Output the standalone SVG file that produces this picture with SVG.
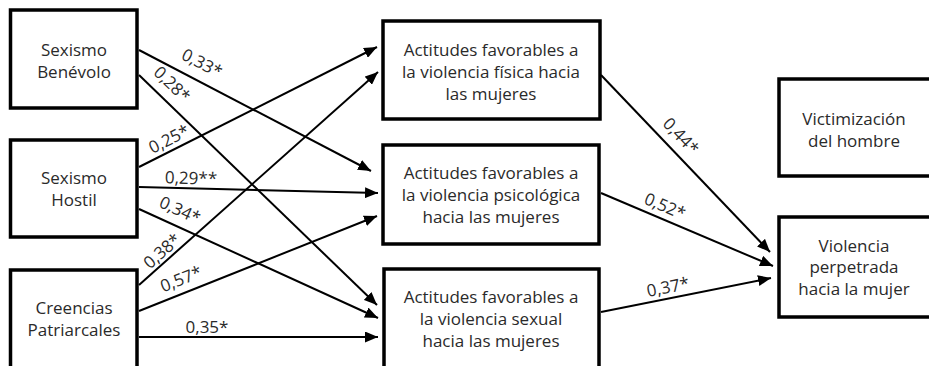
<svg xmlns="http://www.w3.org/2000/svg" width="929" height="366" viewBox="0 0 929 366">
<style>
  .box { fill: #fff; stroke: #000; stroke-width: 3.5; }
  .t { font-family: "Open Sans", "Liberation Sans", sans-serif; font-size: 17px; fill: #2a2a2a; text-anchor: middle; }
  .lbl { font-family: "Open Sans", "Liberation Sans", sans-serif; font-size: 17px; fill: #2a2a2a; text-anchor: middle; }
  .edge { stroke: #000; stroke-width: 2; fill: none; marker-end: url(#arr); }
</style>
<defs>
  <marker id="arr" markerUnits="userSpaceOnUse" markerWidth="13" markerHeight="11" refX="13" refY="5.5" orient="auto">
    <path d="M0,0 L13,5.5 L0,11 z" fill="#000"/>
  </marker>
</defs>
<rect width="929" height="366" fill="#fff"/>
<g id="connectors">
  <line class="edge" x1="139" y1="50" x2="371" y2="171"/>
  <line class="edge" x1="139" y1="75" x2="377" y2="305"/>
  <line class="edge" x1="139" y1="167" x2="377" y2="47"/>
  <line class="edge" x1="139" y1="187" x2="378" y2="193"/>
  <line class="edge" x1="139" y1="209" x2="378" y2="318"/>
  <line class="edge" x1="139" y1="285" x2="378" y2="72"/>
  <line class="edge" x1="139" y1="311" x2="377" y2="216"/>
  <line class="edge" x1="139" y1="337" x2="378" y2="337"/>
  <line class="edge" x1="601" y1="75" x2="770" y2="252"/>
  <line class="edge" x1="601" y1="193" x2="773" y2="266"/>
  <line class="edge" x1="601" y1="312" x2="771" y2="278"/>
</g>
<g id="labels">
  <text class="lbl" transform="translate(202,63) rotate(27.5)" x="0" y="6">0,33*</text>
  <text class="lbl" transform="translate(172,84) rotate(44)" x="0" y="6">0,28*</text>
  <text class="lbl" transform="translate(169,139) rotate(-26.8)" x="0" y="6">0,25*</text>
  <text class="lbl" transform="translate(191,178) rotate(1.4)" x="0" y="6">0,29**</text>
  <text class="lbl" transform="translate(180,210) rotate(24.5)" x="0" y="6">0,34*</text>
  <text class="lbl" transform="translate(162,251) rotate(-41.7)" x="0" y="6">0,38*</text>
  <text class="lbl" transform="translate(181,279) rotate(-21.8)" x="0" y="6">0,57*</text>
  <text class="lbl" transform="translate(207,327)" x="0" y="6">0,35*</text>
  <text class="lbl" transform="translate(681,136) rotate(46.3)" x="0" y="6">0,44*</text>
  <text class="lbl" transform="translate(665,206) rotate(23)" x="0" y="6">0,52*</text>
  <text class="lbl" transform="translate(668,287) rotate(-11.3)" x="0" y="6">0,37*</text>
</g>
<g id="sexismo-benevolo">
  <rect class="box" x="10.5" y="10" width="126.5" height="98"/>
  <text class="t" x="74" y="56">Sexismo</text>
  <text class="t" x="74" y="78">Benévolo</text>
</g>
<g id="sexismo-hostil">
  <rect class="box" x="10.5" y="140" width="126.5" height="97"/>
  <text class="t" x="74" y="184">Sexismo</text>
  <text class="t" x="74" y="206">Hostil</text>
</g>
<g id="creencias-patriarcales">
  <rect class="box" x="10.5" y="270" width="126.5" height="100"/>
  <text class="t" x="74" y="314">Creencias</text>
  <text class="t" x="74" y="336">Patriarcales</text>
</g>
<g id="actitudes-fisica">
  <rect class="box" x="383" y="21" width="217" height="98"/>
  <text class="t" x="491" y="56">Actitudes favorables a</text>
  <text class="t" x="491" y="78">la violencia física hacia</text>
  <text class="t" x="491" y="100">las mujeres</text>
</g>
<g id="actitudes-psicologica">
  <rect class="box" x="383" y="145" width="216" height="99"/>
  <text class="t" x="491" y="179">Actitudes favorables a</text>
  <text class="t" x="491" y="201">la violencia psicológica</text>
  <text class="t" x="491" y="223">hacia las mujeres</text>
</g>
<g id="actitudes-sexual">
  <rect class="box" x="384" y="269" width="215" height="100"/>
  <text class="t" x="491" y="303">Actitudes favorables a</text>
  <text class="t" x="491" y="325">la violencia sexual</text>
  <text class="t" x="491" y="347">hacia las mujeres</text>
</g>
<g id="victimizacion">
  <rect class="box" x="779" y="79" width="152" height="97"/>
  <text class="t" x="854" y="125">Victimización</text>
  <text class="t" x="854" y="147">del hombre</text>
</g>
<g id="violencia-perpetrada">
  <rect class="box" x="779" y="217" width="152" height="100"/>
  <text class="t" x="854" y="252">Violencia</text>
  <text class="t" x="854" y="273">perpetrada</text>
  <text class="t" x="854" y="295">hacia la mujer</text>
</g>
</svg>
